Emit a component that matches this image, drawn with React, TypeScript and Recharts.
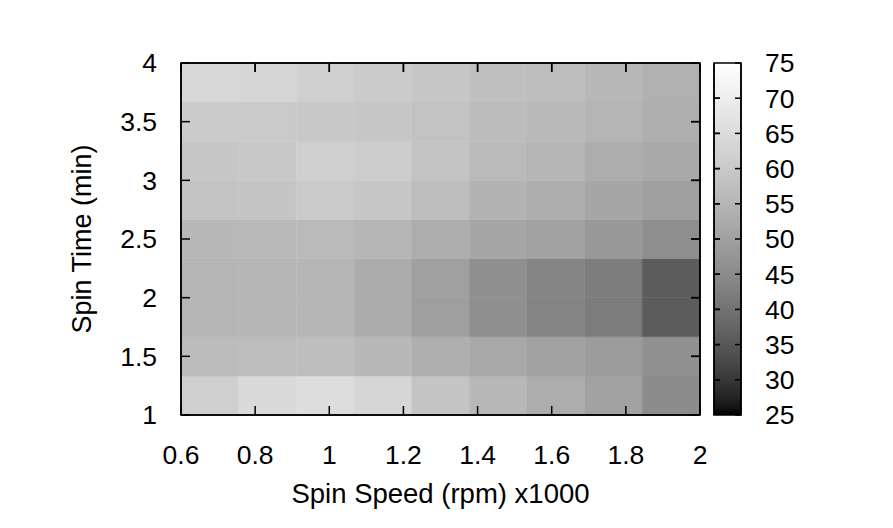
import React from "react";
import { ComposedChart, XAxis, YAxis, ReferenceArea } from "recharts";

// bin edges of the map (spin speed in rpm x1000, spin time in min)
const speedEdges = [0.6, 0.756, 0.911, 1.067, 1.222, 1.378, 1.533, 1.689, 1.844, 2];
const timeEdges = [1, 1.333, 1.667, 2, 2.333, 2.667, 3, 3.333, 3.667, 4];

const speedTicks = [0.6, 0.8, 1, 1.2, 1.4, 1.6, 1.8, 2];
const timeTicks = [1, 1.5, 2, 2.5, 3, 3.5, 4];
const scaleTicks = [25, 30, 35, 40, 45, 50, 55, 60, 65, 70, 75];
const scaleInnerTicks = [30, 35, 40, 45, 50, 55, 60, 65, 70];

// one row per time bin, from the bottom (1 min) to the top (4 min)
const row1 = [61.6, 64.5, 65.3, 63.4, 58.9, 55.6, 52.9, 50.3, 45.3];
const row2 = [56.7, 56.9, 57.2, 55.6, 53.4, 51.7, 50.3, 48.9, 46.4];
const row3 = [54.9, 55.1, 55.1, 52.7, 49.6, 46.0, 43.8, 42.0, 35.8];
const row4 = [54.9, 55.1, 55.1, 52.7, 49.8, 46.1, 43.9, 42.1, 35.8];
const row5 = [55.6, 55.9, 56.2, 55.1, 52.9, 51.3, 50.3, 48.2, 45.8];
const row6 = [58.4, 58.9, 60.3, 59.2, 56.9, 54.4, 53.2, 51.3, 49.6];
const row7 = [59.2, 59.7, 61.6, 61.0, 58.4, 56.2, 55.1, 52.9, 52.0];
const row8 = [60.5, 60.3, 59.7, 59.2, 58.2, 56.7, 55.9, 54.9, 53.4];
const row9 = [64.0, 63.4, 61.8, 60.5, 59.2, 57.7, 56.9, 55.6, 53.7];
const rows = [row1, row2, row3, row4, row5, row6, row7, row8, row9];

const CB_MIN = 25;
const CB_MAX = 75;

// gnuplot style gray palette (gamma 1.5)
function gray(v: number) {
  const t = Math.max(0, Math.min(1, (v - CB_MIN) / (CB_MAX - CB_MIN)));
  const g = Math.round(255 * Math.pow(t, 1 / 1.5));
  return `rgb(${g},${g},${g})`;
}

const font = "'Liberation Sans', Arial, Helvetica, sans-serif";
const tickStyle = { fill: "#000", fontSize: 26.5, fontFamily: font };
const lineStyle = { stroke: "#000", strokeWidth: 1.5 };

// mirrored axes: no label, just the inward mark (drawn from the tick anchor back to the border)
const markTop = (p: any) => <line x1={p.x} x2={p.x} y1={p.y} y2={p.y - 9} stroke="#000" strokeWidth={1.5} />;
const markRight = (p: any) => <line x1={p.x} x2={p.x + 9} y1={p.y} y2={p.y} stroke="#000" strokeWidth={1.5} />;
const markLeftSmall = (p: any) => <line x1={p.x} x2={p.x - 6} y1={p.y} y2={p.y} stroke="#000" strokeWidth={1.5} />;

const W = 893;
const H = 528;
// plot box of the map
const mapMargin = { top: 63, right: 193, bottom: 113, left: 181 };

const gradStops = Array.from({ length: 41 }, (_, i) => i / 40);

const layer = (left: number): React.CSSProperties => ({ position: "absolute", left, top: 0 });

export default function App() {
  return (
    <div style={{ position: "absolute", left: 0, top: 0, width: W, height: H, background: "#fff", fontFamily: font }}>
      {/* map cells */}
      <div style={layer(0)}>
        <ComposedChart width={W} height={H} margin={mapMargin}>
          <XAxis type="number" dataKey="x" domain={[0.6, 2]} allowDataOverflow hide height={0} />
          <YAxis type="number" dataKey="y" domain={[1, 4]} allowDataOverflow hide width={0} />
          {rows.map((row, j) =>
            row.map((v, i) => (
              <ReferenceArea
                key={`c${i}-${j}`}
                x1={speedEdges[i]}
                x2={speedEdges[i + 1]}
                y1={timeEdges[j]}
                y2={timeEdges[j + 1]}
                fill={gray(v)}
                fillOpacity={1}
                stroke={gray(v)}
                strokeWidth={0.5}
                ifOverflow="visible"
              />
            ))
          )}
        </ComposedChart>
      </div>

      {/* map axes, border and inward ticks */}
      <div style={layer(0)}>
        <ComposedChart width={W} height={H} margin={{ top: 62, right: 192, bottom: 20, left: 60 }}>
          <XAxis
            type="number"
            dataKey="x"
            domain={[0.6, 2]}
            ticks={speedTicks}
            interval={0}
            allowDataOverflow
            height={93}
            tickSize={-9}
            tickMargin={39}
            tick={tickStyle}
            axisLine={lineStyle}
            tickLine={lineStyle}
            label={{ value: "Spin Speed (rpm) x1000", position: "insideBottom", offset: 5, fill: "#000", fontSize: 27.5, fontFamily: font }}
          />
          <XAxis
            xAxisId="top"
            orientation="top"
            type="number"
            dataKey="x"
            domain={[0.6, 2]}
            ticks={speedTicks}
            interval={0}
            allowDataOverflow
            height={1}
            tickSize={-9}
            tickMargin={0}
            tick={markTop}
            axisLine={lineStyle}
            tickLine={lineStyle}
          />
          <YAxis
            type="number"
            dataKey="y"
            domain={[1, 4]}
            ticks={timeTicks}
            interval={0}
            allowDataOverflow
            width={121}
            tickSize={-9}
            tickMargin={33}
            tick={tickStyle}
            axisLine={lineStyle}
            tickLine={lineStyle}
            label={{ value: "Spin Time (min)", angle: -90, position: "insideLeft", offset: 21, fill: "#000", fontSize: 27, fontFamily: font, style: { textAnchor: "middle" } }}
          />
          <YAxis
            yAxisId="right"
            orientation="right"
            type="number"
            dataKey="y"
            domain={[1, 4]}
            ticks={timeTicks}
            interval={0}
            allowDataOverflow
            width={1}
            tickSize={-9}
            tickMargin={0}
            tick={markRight}
            axisLine={lineStyle}
            tickLine={lineStyle}
          />
          <ReferenceArea x1={0.6} x2={2} y1={1} y2={4} fill="none" stroke="#000" strokeWidth={1.5} ifOverflow="visible" />
        </ComposedChart>
      </div>

      {/* colour box */}
      <div style={layer(700)}>
        <ComposedChart width={120} height={H} margin={{ top: 63, right: 79, bottom: 113, left: 14 }}>
          <defs>
            <linearGradient id="cbar" x1="0" y1="0" x2="0" y2="1">
              {gradStops.map((s) => (
                <stop key={s} offset={s} stopColor={gray(CB_MAX - s * (CB_MAX - CB_MIN))} />
              ))}
            </linearGradient>
          </defs>
          <XAxis type="number" dataKey="x" domain={[0, 1]} allowDataOverflow hide height={0} />
          <YAxis type="number" dataKey="v" domain={[CB_MIN, CB_MAX]} allowDataOverflow hide width={0} />
          <ReferenceArea x1={0} x2={1} y1={CB_MIN} y2={CB_MAX} fill="url(#cbar)" fillOpacity={1} ifOverflow="visible" />
        </ComposedChart>
      </div>

      {/* colour box axes */}
      <div style={layer(700)}>
        <ComposedChart width={120} height={H} margin={{ top: 63, right: 9, bottom: 113, left: 13 }}>
          <XAxis type="number" dataKey="x" domain={[0, 1]} allowDataOverflow hide height={0} />
          <YAxis
            type="number"
            dataKey="v"
            domain={[CB_MIN, CB_MAX]}
            ticks={scaleInnerTicks}
            interval={0}
            allowDataOverflow
            width={1}
            tickSize={-6}
            tickMargin={0}
            tick={markLeftSmall}
            axisLine={lineStyle}
            tickLine={lineStyle}
          />
          <YAxis
            yAxisId="cb"
            orientation="right"
            type="number"
            dataKey="v"
            domain={[CB_MIN, CB_MAX]}
            ticks={scaleTicks}
            interval={0}
            allowDataOverflow
            width={70}
            tickSize={-6}
            tickMargin={30}
            tick={tickStyle}
            axisLine={lineStyle}
            tickLine={lineStyle}
          />
          <ReferenceArea x1={0} x2={1} y1={CB_MIN} y2={CB_MAX} fill="none" stroke="#000" strokeWidth={1.5} ifOverflow="visible" />
        </ComposedChart>
      </div>
    </div>
  );
}
